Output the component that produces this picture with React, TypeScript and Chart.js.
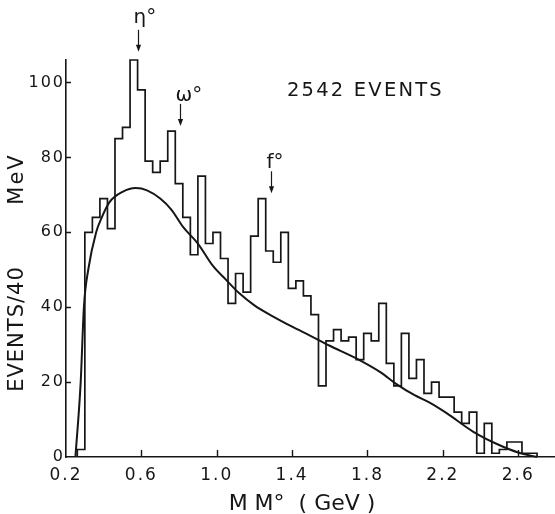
import React, { useEffect, useRef } from "react";
import { Chart, registerables } from "chart.js";

Chart.register(...registerables);

const INK = "#161616";
const FONT = "'DejaVu Sans', 'Liberation Sans', sans-serif";

// Missing-mass spectrum, 40 MeV bins starting at 0.26 GeV
const BIN_START = 0.26;
const BIN_WIDTH = 0.04;
const eventCounts = [
  2, 60, 64, 69, 61, 85, 88, 106, 98, 79, 76,
  79, 87, 73, 64, 54, 75, 57, 60, 53, 41,
  49, 44, 59, 69, 55, 52, 60, 45, 47, 43,
  38, 19, 31, 34, 31, 32, 26, 33, 31, 41,
  25, 19, 33, 21, 26, 17, 20, 16, 16, 12,
  9, 12, 1, 9, 1, 2, 4, 4, 1, 1,
];

// Smooth phase-space curve (GeV, events / 40 MeV)
const fitMass = [
  0.25, 0.278, 0.295, 0.318, 0.36, 0.39, 0.43, 0.5, 0.57, 0.63, 0.7, 0.76,
  0.82, 0.9, 0.98, 1.05, 1.12, 1.2, 1.3, 1.4, 1.5, 1.6, 1.73, 1.87, 1.95,
  2.05, 2.13, 2.22, 2.36, 2.49, 2.6, 2.7,
];
const fitEvents = [
  0, 20, 40, 50, 60, 64, 68, 70.8, 71.8, 71.2, 69, 66,
  61.5, 57, 51, 47.3, 43.7, 40.5, 37.5, 34.8, 32.3, 29.7, 26.6, 22.6, 19.6,
  16.5, 14.5, 11.7, 6.8, 3.4, 1.2, 0,
];

const xTickValues = [0.2, 0.6, 1.0, 1.4, 1.8, 2.2, 2.6];
const yTickValues = [0, 20, 40, 60, 80, 100];

// Resonance markers: name, mass (GeV), arrow tip (events)
const resonanceLabels = ["η°", "ω°", "f°"];
const resonanceMass = [0.584, 0.805, 1.288];
const resonanceArrowTip = [108.2, 88.4, 70.4];

const totalLabel = "2542 EVENTS";
const xTitle = "M M°  ( GeV )";
const yTitleMain = "EVENTS/40";
const yTitleUnit = "MeV";

function histogramOutline() {
  const pts: { x: number; y: number }[] = [{ x: BIN_START, y: 0 }];
  eventCounts.forEach((c, i) => {
    const lo = +(BIN_START + i * BIN_WIDTH).toFixed(2);
    const hi = +(lo + BIN_WIDTH).toFixed(2);
    pts.push({ x: lo, y: c });
    pts.push({ x: hi, y: c });
  });
  const end = +(BIN_START + eventCounts.length * BIN_WIDTH).toFixed(2);
  pts.push({ x: end, y: 0 });
  return pts;
}

const decorations = {
  id: "decorations",
  beforeDraw(chart: any) {
    chart.ctx.letterSpacing = "2px";
  },
  afterDraw(chart: any) {
    const ctx = chart.ctx as CanvasRenderingContext2D;
    const xs = chart.scales.x;
    const ys = chart.scales.y;
    const { left, bottom } = chart.chartArea;
    ctx.save();
    (ctx as any).letterSpacing = "0px";
    ctx.strokeStyle = INK;
    ctx.fillStyle = INK;
    ctx.lineWidth = 1.4;

    // inward tick marks
    ctx.beginPath();
    xTickValues.slice(1).forEach((v) => {
      const px = Math.round(xs.getPixelForValue(v)) + 0.5;
      ctx.moveTo(px, bottom);
      ctx.lineTo(px, bottom - 7);
    });
    yTickValues.slice(1).forEach((v) => {
      const py = Math.round(ys.getPixelForValue(v)) + 0.5;
      ctx.moveTo(left, py);
      ctx.lineTo(left + 5, py);
    });
    ctx.stroke();

    // resonance arrows and names
    ctx.lineWidth = 1.2;
    resonanceLabels.forEach((name, i) => {
      const ax = Math.round(xs.getPixelForValue(resonanceMass[i])) + 0.5;
      const tip = ys.getPixelForValue(resonanceArrowTip[i]);
      const top = tip - 22;
      ctx.beginPath();
      ctx.moveTo(ax, top);
      ctx.lineTo(ax, tip - 4);
      ctx.stroke();
      ctx.beginPath();
      ctx.moveTo(ax - 2.6, tip - 7);
      ctx.lineTo(ax + 2.6, tip - 7);
      ctx.lineTo(ax, tip);
      ctx.closePath();
      ctx.fill();
      ctx.font = `20px ${FONT}`;
      ctx.textAlign = "left";
      ctx.textBaseline = "alphabetic";
      const m = ctx.measureText(name);
      const descent = Math.max(0, m.actualBoundingBoxDescent);
      ctx.fillText(name, ax - 5, top - 3 - descent);
    });

    // event total
    (ctx as any).letterSpacing = "2.2px";
    ctx.font = `19.5px ${FONT}`;
    ctx.textAlign = "left";
    ctx.fillText(totalLabel, 287, 96);

    // axis titles
    (ctx as any).letterSpacing = "0px";
    ctx.font = `22px ${FONT}`;
    ctx.textAlign = "center";
    ctx.fillText(xTitle, 302, 510);

    ctx.translate(23, 0);
    ctx.rotate(-Math.PI / 2);
    ctx.font = `21px ${FONT}`;
    (ctx as any).letterSpacing = "1px";
    ctx.fillText(yTitleMain, -329, 0);
    (ctx as any).letterSpacing = "2px";
    ctx.fillText(yTitleUnit, -179, 0);
    ctx.restore();
  },
};

export default function App() {
  const canvasRef = useRef<HTMLCanvasElement | null>(null);

  useEffect(() => {
    const canvas = canvasRef.current;
    if (!canvas) return;
    const fitPoints = fitMass.map((x, i) => ({ x, y: fitEvents[i] }));
    const chart = new Chart(canvas, {
      type: "line",
      data: {
        datasets: [
          {
            data: histogramOutline(),
            borderColor: INK,
            borderWidth: 1.7,
            pointRadius: 0,
            tension: 0,
            fill: false,
            borderJoinStyle: "miter",
            clip: false,
          } as any,
          {
            data: fitPoints,
            borderColor: INK,
            borderWidth: 2,
            pointRadius: 0,
            cubicInterpolationMode: "monotone",
            fill: false,
            clip: false,
          } as any,
        ],
      },
      options: {
        responsive: false,
        animation: false,
        events: [],
        layout: { padding: { top: 60, right: 1, bottom: 0, left: 0 } },
        plugins: { legend: { display: false }, tooltip: { enabled: false } },
        scales: {
          x: {
            type: "linear",
            min: 0.2,
            max: 2.79,
            afterFit: (s: any) => {
              s.height = 57;
            },
            afterBuildTicks: (s: any) => {
              s.ticks = xTickValues.map((value) => ({ value }));
            },
            ticks: {
              color: INK,
              font: { family: FONT, size: 17 },
              padding: 8,
              maxRotation: 0,
              autoSkip: false,
              callback: (v: any) => Number(v).toFixed(1),
            },
            grid: { display: false, drawTicks: false },
            border: { display: true, color: INK, width: 1.6 },
          },
          y: {
            type: "linear",
            min: 0,
            max: 106,
            afterFit: (s: any) => {
              s.width = 66;
            },
            afterBuildTicks: (s: any) => {
              s.ticks = yTickValues.map((value) => ({ value }));
            },
            ticks: {
              color: INK,
              font: { family: FONT, size: 16 },
              padding: 1,
              autoSkip: false,
              callback: (v: any) => String(v),
            },
            grid: { display: false, drawTicks: false },
            border: { display: true, color: INK, width: 1.6 },
          },
        },
      },
      plugins: [decorations],
    });
    return () => chart.destroy();
  }, []);

  return (
    <div
      style={{
        position: "fixed",
        left: 0,
        top: 0,
        width: 555,
        height: 514,
        background: "#fff",
      }}
    >
      <canvas ref={canvasRef} width={555} height={514} style={{ display: "block" }} />
    </div>
  );
}
